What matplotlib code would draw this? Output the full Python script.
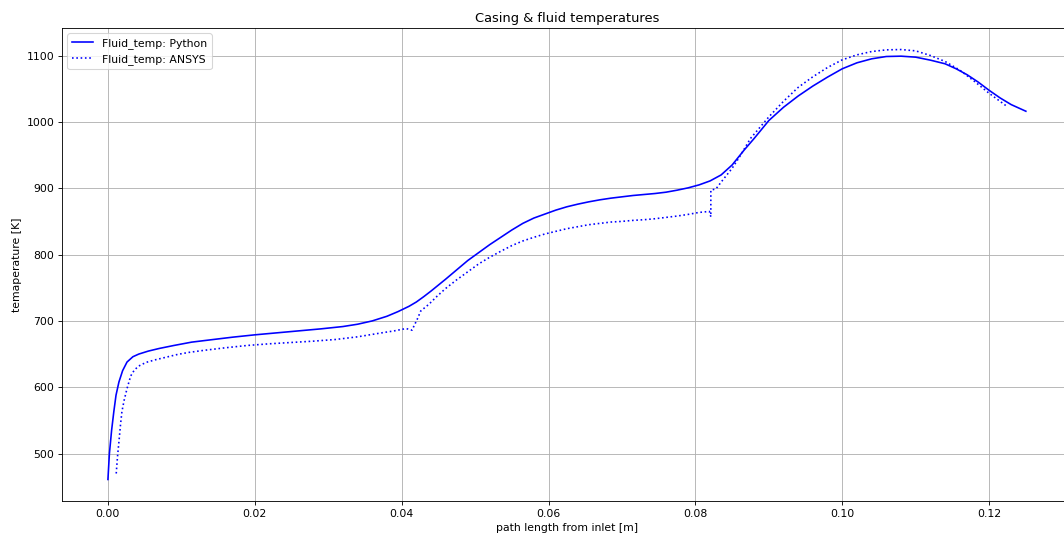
import numpy as np
import matplotlib
matplotlib.use('Agg')
import matplotlib.pyplot as plt

# fluid temperature along the flow path, 1D model
x_python = [0.0, 0.0002, 0.0005, 0.0008, 0.0011, 0.0015, 0.002, 0.0026, 0.0034, 0.0042,
            0.0055, 0.007, 0.009, 0.0114, 0.014, 0.017, 0.02, 0.023, 0.026, 0.029,
            0.032, 0.034, 0.036, 0.038, 0.0395, 0.041, 0.042, 0.043, 0.044, 0.045,
            0.046, 0.0475, 0.049, 0.0505, 0.052, 0.0535, 0.055, 0.0565, 0.058, 0.0595,
            0.061, 0.0625, 0.064, 0.0655, 0.067, 0.0685, 0.07, 0.0715, 0.073, 0.0745,
            0.076, 0.0775, 0.079, 0.0805, 0.082, 0.0835, 0.085, 0.0866, 0.088, 0.09,
            0.092, 0.094, 0.096, 0.098, 0.1, 0.102, 0.104, 0.106, 0.108, 0.11,
            0.112, 0.114, 0.1155, 0.117, 0.1185, 0.12, 0.1215, 0.123, 0.125]
T_python = [461, 500, 535, 563, 588, 608, 625, 638, 646, 650,
            654.5, 658.5, 663, 668, 671.5, 675.5, 679, 682, 685, 688,
            691.5, 695, 700, 707, 714, 722, 728.5, 736.5, 745, 754,
            763, 777, 791, 803, 815, 826, 837, 847, 855, 861,
            867, 872, 876, 879.5, 882.5, 885, 887, 889, 890.5, 892,
            894, 897, 900.5, 905, 911, 920, 935, 957, 975, 1002,
            1022, 1039, 1054, 1067.5, 1080, 1089, 1095, 1098.5, 1099, 1097.5,
            1093, 1087.5, 1080, 1071, 1060, 1047.5, 1036, 1026, 1016]

# fluid temperature from the ANSYS model
x_ansys = [0.00113, 0.0013, 0.0015, 0.0017, 0.0019, 0.0022, 0.0026, 0.0031, 0.0036, 0.0042,
           0.0052, 0.0065, 0.008, 0.0095, 0.011, 0.013, 0.016, 0.019, 0.022, 0.025,
           0.028, 0.031, 0.034, 0.037, 0.039, 0.0406, 0.0414, 0.0421, 0.0426, 0.0437,
           0.0448, 0.046, 0.0475, 0.049, 0.0505, 0.052, 0.0535, 0.055, 0.0565, 0.058,
           0.0595, 0.061, 0.0625, 0.064, 0.0655, 0.067, 0.0685, 0.07, 0.0715, 0.073,
           0.0745, 0.076, 0.0775, 0.079, 0.0805, 0.0819, 0.0821, 0.0821, 0.0828, 0.0837,
           0.085, 0.086, 0.0875, 0.09, 0.092, 0.094, 0.096, 0.098, 0.1, 0.102,
           0.104, 0.106, 0.108, 0.11, 0.112, 0.114, 0.116, 0.118, 0.12, 0.1224]
T_ansys = [470, 495, 518, 542, 563, 580, 598, 617, 626, 632,
           637.5, 641.5, 645.5, 649.5, 652.5, 655.5, 659.5, 663, 665.5, 667.5,
           669.5, 672, 676, 681.5, 685, 688.5, 686, 702, 715, 725,
           737, 749, 762, 774, 786, 796, 805, 813.5, 820.5, 826,
           831, 835, 839, 842, 845, 847, 849, 850, 851.5, 852.5,
           854, 856, 858, 860.5, 863.5, 865, 857, 897, 899, 912,
           930, 947, 975, 1007.5, 1031, 1052, 1068, 1082, 1093.5, 1101,
           1106, 1108.5, 1109, 1107, 1100, 1091, 1078, 1061, 1043, 1023.5]

fig = plt.figure(figsize=(1064 / 78, 535 / 78), dpi=78)
ax = fig.add_axes([0.0583, 0.0636, 0.949, 0.884])

ax.plot(x_python, T_python, 'b-', label='Fluid_temp: Python')
ax.plot(x_ansys, T_ansys, 'b:', label='Fluid_temp: ANSYS')

ax.set_title('Casing & fluid temperatures')
ax.set_xlabel('path length from inlet [m]')
ax.set_ylabel('temaperature [K]')
ax.grid(True)
ax.legend(loc='upper left')

fig.savefig('out.png', dpi=78)
